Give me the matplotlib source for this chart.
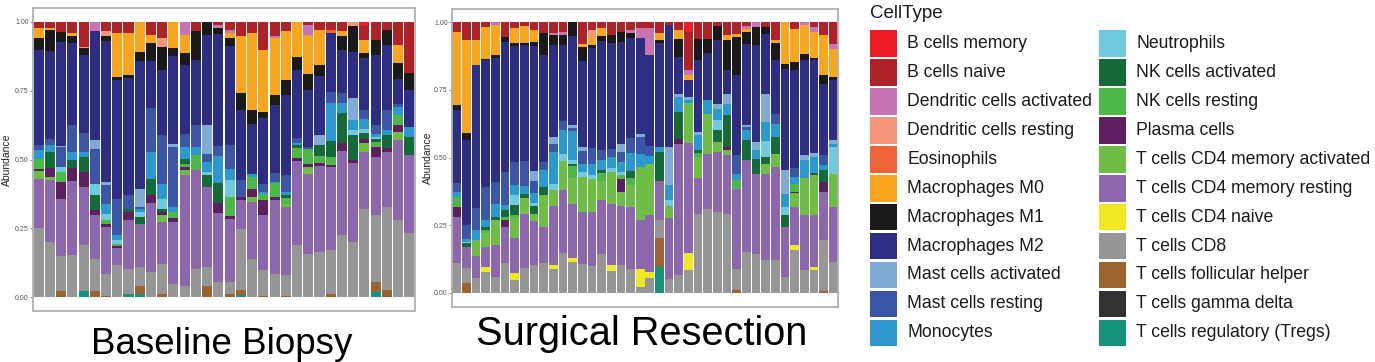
import numpy as np
import matplotlib
matplotlib.use("Agg")
import matplotlib.pyplot as plt
from matplotlib.patches import Rectangle

plt.rcParams['font.family'] = ['Liberation Sans', 'DejaVu Sans']

# ---------------- categories / colours ----------------
cell_types = [
    "B cells memory", "B cells naive", "Dendritic cells activated",
    "Dendritic cells resting", "Eosinophils", "Macrophages M0",
    "Macrophages M1", "Macrophages M2", "Mast cells activated",
    "Mast cells resting", "Monocytes", "Neutrophils", "NK cells activated",
    "NK cells resting", "Plasma cells", "T cells CD4 memory activated",
    "T cells CD4 memory resting", "T cells CD4 naive", "T cells CD8",
    "T cells follicular helper", "T cells gamma delta",
    "T cells regulatory (Tregs)",
]
cell_colors = [
    "#ED1C24", "#AF2228", "#C873B2", "#F4967A", "#F0643C", "#F9A61E",
    "#1A1A1A", "#2D2E83", "#80AAD8", "#3B56A6", "#2B98D0", "#6DCBDD",
    "#146B38", "#4DB748", "#5D1F60", "#6EBE45", "#8C67AD", "#EFE823",
    "#969696", "#9A6330", "#333333", "#14937A",
]

panel_titles = ["Baseline Biopsy", "Surgical Resection"]
y_ticks = [0.0, 0.25, 0.5, 0.75, 1.0]
y_tick_labels = ["0.00", "0.25", "0.50", "0.75", "1.00"]

# ---------------- Baseline Biopsy (34 samples) ----------------
b_B_memory = [0]*29 + [.017] + [0]*4
b_B_naive = [.023, .023, .038, .041, .09, 0, .035, .041, .041, 0, .047, .06, 0, 0, .035, 0, .012,
             .029, .053, .041, .102, .053, .035, 0, .012, .029, .029, .035, 0, .048, .065, .029, .084, .187]
b_DC_act = [0, 0, 0, 0, 0, .032, 0, 0, 0, 0, 0, 0, 0, .047, 0, 0, .012,
            .012, 0, 0, 0, .006, 0, 0, .036, 0, 0, 0, 0, 0, 0, 0, 0, 0]
b_DC_rest = [0, 0, 0, 0, .006, 0, .018, 0, 0, 0, 0, .03, 0, 0, 0, 0, 0,
             0, 0, 0, 0, 0, 0, 0, 0, 0, 0, 0, .017, 0, 0, 0, 0, 0]
b_Eos = [0]*26 + [.012] + [0]*7
b_M0 = [.034, .008, 0, .012, 0, 0, 0, .158, .152, .108, .03, 0, .096, .067, 0, 0, 0,
        .018, .206, .279, .224, .206, .176, .126, .14, .127, 0, .018, 0, .048, 0, 0, .067, 0]
b_M1 = [.045, .076, .034, .024, .024, 0, .018, .012, .012, .036, .067, .085, .03, .042, .103, .047, .022,
        .03, .061, .049, .024, .036, .055, .048, .061, .042, 0, .048, .091, .018, .055, .055, .055, .061]
b_M2 = [.345, .316, .376, .297, .285, .398, .51, .43, .424, .461, .17, .237, .316, .249, .237, .328, .406,
        .358, .255, .182, .237, .249, .291, .248, .206, .212, .212, .158, .17, .188, .255, .236, .091, .133]
b_Mast_act = [0, 0, .005, 0, 0, .03, .012, 0, 0, .067, 0, 0, .012, 0, 0, .103, 0,
              0, 0, 0, 0, 0, 0, 0, 0, .036, 0, 0, .079, 0, 0, 0, 0, 0]
b_Mast_rest = [.018, .024, .073, .097, .067, .127, .067, .133, .049, .006, .158, .176, .218, .049, .079, .03, .036,
               .085, .061, 0, .03, .03, .061, .018, .006, 0, .042, .036, 0, .036, .03, .073, .012, 0]
b_Mono = [.033, .024, 0, .03, .018, 0, .036, .018, 0, .012, .097, .055, .018, .042, .03, .036, .097,
          .042, 0, .012, .006, .006, .012, .008, 0, 0, .139, .036, .036, .036, .012, .018, .03, .036]
b_Neut = [0, 0, .018, 0, 0, .042, .024, .012, 0, .018, 0, .036, 0, 0, 0, .012, 0,
          .061, 0, 0, 0, 0, 0, 0, 0, 0, 0, 0, .018, .012, .008, 0, 0, 0]
b_NK_act = [0, .06, 0, .03, .055, .055, 0, 0, .012, .024, .06, .012, 0, .018, 0, .042, .073,
            0, 0, 0, 0, 0, .008, .01, 0, .042, .055, .109, .091, .024, .01, .048, 0, .067]
b_NK_rest = [.037, 0, .036, 0, 0, 0, .012, .01, 0, 0, 0, 0, .024, .012, .055, 0, 0,
             .067, 0, .042, .024, .049, .024, .036, .055, .024, .03, 0, 0, 0, .018, 0, .036, 0]
b_Plasma = [.007, .03, .06, .048, .055, .018, .012, .005, .03, 0, .03, .012, .012, .012, 0, 0, .036,
            .012, .012, .03, .055, .012, 0, .012, .012, .012, .006, .03, .012, .012, .036, .012, .024, 0]
b_CD4_mem_act = [.026, .012, 0, 0, 0, 0, 0, 0, 0, 0, 0, .024, 0, .018, 0, 0, 0,
                 0, 0, .018, 0, 0, .01, 0, .024, 0, 0, 0, 0, .036, 0, 0, .03, 0]
b_CD4_mem_rest = [.18, .225, .206, .267, .212, .158, .17, .064, .176, .158, .248, .152, .225, .4, .358, .291, .251,
                  .23, .103, .206, .2, .267, .249, .303, .291, .309, .303, .303, .285, .206, .212, .2, .291, .285]
b_CD4_naive = [0]*34
b_CD8 = [.25, .2, .127, .153, .164, .115, .079, .115, .091, .067, .092, .109, .049, .042, .103, .067, .055,
         .042, .224, .14, .091, .085, .073, .189, .157, .165, .158, .225, .2, .32, .242, .303, .28, .232]
b_Tfh = [0, 0, .024, 0, 0, .024, .006, 0, 0, .03, 0, .012, 0, 0, 0, .042, 0,
         .012, .018, 0, .006, 0, .006, 0, 0, 0, .013, 0, 0, 0, .036, .025, 0, 0]
b_Tgd = [0]*34
b_Treg = [0, 0, 0, 0, .024, 0, 0, 0, .012, .012, 0, 0, 0, 0, 0, 0, 0,
          0, .007, 0, 0, 0, 0, 0, 0, 0, 0, 0, 0, 0, .019, 0, 0, 0]

# ---------------- Surgical Resection (40 samples) ----------------
s_B_memory = [0]*24 + [.036] + [0]*15
s_B_naive = [.034, .065, .065, .017, 0, .053, .022, .015, .028, .041, .04, .034, 0, .08, .03, .022, .047, .034, .028, .022,
             .022, .04, .01, .027, .141, .06, .06, .015, .048, .042, .012, 0, .017, .066, 0, .023, 0, .017, .048, .079]
s_DC_act = [0, 0, 0, 0, .011, 0, 0, 0, 0, 0, .006, .012, 0, 0, 0, 0, 0, 0, .012, .037,
            .1, 0, 0, 0, .018, 0, 0, 0, 0, 0, .012, .017, 0, 0, 0, 0, .011, .018, 0, .018]
s_DC_rest = [0]*14 + [.025] + [0]*25
s_Eos = [0]*40
s_M0 = [.271, .345, .092, .117, .111, 0, .055, .06, .043, 0, 0, 0, 0, .012, .03, .03, 0, 0, 0, 0,
        0, .025, 0, .033, .018, 0, 0, 0, .018, .012, .012, 0, 0, .012, .153, .123, .105, .098, .148, .105]
s_M1 = [.018, .025, 0, .006, .009, .018, .009, .008, .018, .08, .037, .037, .05, .05, .01, .018, .03, .037, .018, 0,
        0, .01, 0, .068, 0, .08, .055, .052, .111, .142, .043, .068, .025, .062, .018, .031, .022, .006, .031, .012]
s_M2 = [.271, .314, .53, .468, .459, .483, .428, .43, .462, .394, .34, .283, .33, .32, .37, .4, .39, .376, .37, .357,
        .333, .385, .45, .136, .062, .265, .172, .234, .086, .295, .302, .358, .222, .197, .376, .363, .353, .345, .265, .222]
s_Mast_act = [0, 0, 0, 0, 0, 0, 0, 0, .037, 0, .025, 0, .012, .012, 0, 0, 0, .03, 0, .012,
              0, 0, .14, .012, .012, .012, 0, .018, .037, 0, .006, .03, .105, 0, .086, 0, .018, .012, 0, .012]
s_Mast_rest = [.031, .049, .08, .123, .08, .123, .086, .09, .043, .031, .03, .03, .01, .05, .06, .037, .03, .037, .055, .062,
               .037, 0, 0, 0, 0, 0, 0, 0, 0, .068, .012, 0, 0, .037, 0, .031, 0, 0, .037, 0]
s_Mono = [.018, .012, .037, .025, .049, .018, .037, .03, .037, .062, .12, .092, .105, .03, .04, .037, .043, .037, .068, .049,
          .031, .018, .055, .055, .012, .055, .05, .043, .043, .025, .037, .031, .068, .049, .049, .025, .068, .062, .018, .012]
s_Neut = [0, .006, 0, 0, 0, 0, .037, 0, .012, 0, .02, .025, .018, .018, .015, 0, .012, .012, 0, 0,
          0, 0, .025, 0, 0, 0, 0, .037, 0, 0, 0, 0, .06, 0, .031, 0, 0, 0, 0, .099]
s_NK_act = [0, .012, 0, .012, .012, .025, .037, .015, .03, .031, 0, 0, .006, 0, 0, .012, 0, 0, .025, 0,
            0, .11, 0, .099, 0, .012, 0, .043, .117, 0, .074, .055, .025, .062, .043, 0, 0, .006, .043, 0]
s_NK_rest = [.037, 0, 0, .012, 0, .012, .012, 0, 0, 0, 0, 0, .043, 0, 0, .03, 0, .012, .025, 0,
             0, 0, 0, 0, 0, .013, 0, 0, 0, .03, 0, 0, 0, 0, 0, .03, 0, 0, 0, 0]
s_Plasma = [.037, 0, 0, 0, 0, .025, 0, 0, 0, 0, 0, 0, 0, 0, 0, 0, 0, .05, 0, 0,
            0, 0, 0, .018, 0, 0, 0, 0, .012, 0, 0, 0, 0, 0, 0, .006, 0, 0, .037, 0]
s_CD4_mem_act = [0, 0, .06, .05, .092, 0, .074, .06, .025, .117, .06, .105, .098, .13, .12, .07, .12, .05, .08, .197,
                 .185, 0, .043, 0, .148, .08, .148, .037, .018, 0, 0, 0, .04, .049, 0, .05, .135, .148, 0, .123]
s_CD4_mem_rest = [.172, .08, .08, .074, .117, .135, .129, .2, .16, .135, .22, .236, .197, .19, .2, .2, .223, .217, .23, .18,
                  .21, .142, .224, .486, .406, .13, .203, .222, .216, .296, .339, .296, .317, .345, .185, .142, .204, .191, .179, .203]
s_CD4_naive = [0, 0, 0, .018, 0, 0, .025, 0, 0, 0, .015, 0, .018, 0, 0, 0, .025, 0, 0, .068,
               .025, 0, 0, 0, .062, 0, 0, 0, 0, 0, 0, 0, 0, 0, 0, .018, 0, .012, 0, 0]
s_CD8 = [.11, .055, .056, .078, .059, .11, .048, .092, .105, .11, .087, .146, .113, .108, .1, .144, .08, .103, .089, .022,
         .054, .068, .053, .065, .084, .293, .312, .299, .293, .08, .151, .145, .121, .121, .059, .158, .084, .084, .185, .115]
s_Tfh = [0, .036, 0, 0, 0, 0, 0, 0, 0, 0, 0, 0, 0, 0, 0, 0, 0, 0, 0, 0,
         0, .105, 0, 0, 0, 0, 0, 0, 0, .01, 0, 0, 0, 0, 0, 0, 0, 0, .009, 0]
s_Tgd = [0]*40
s_Treg = [0]*21 + [.097] + [0]*18

baseline_series = [b_B_memory, b_B_naive, b_DC_act, b_DC_rest, b_Eos, b_M0, b_M1, b_M2,
                   b_Mast_act, b_Mast_rest, b_Mono, b_Neut, b_NK_act, b_NK_rest, b_Plasma,
                   b_CD4_mem_act, b_CD4_mem_rest, b_CD4_naive, b_CD8, b_Tfh, b_Tgd, b_Treg]
surgical_series = [s_B_memory, s_B_naive, s_DC_act, s_DC_rest, s_Eos, s_M0, s_M1, s_M2,
                   s_Mast_act, s_Mast_rest, s_Mono, s_Neut, s_NK_act, s_NK_rest, s_Plasma,
                   s_CD4_mem_act, s_CD4_mem_rest, s_CD4_naive, s_CD8, s_Tfh, s_Tgd, s_Treg]

# ---------------- figure ----------------
W, H = 1375, 362
fig = plt.figure(figsize=(W / 100, H / 100), dpi=100)


def px_rect(x0, y0, x1, y1):
    """pixel box (top-left origin) -> figure fraction [l, b, w, h]"""
    return [x0 / W, (H - y1) / H, (x1 - x0) / W, (y1 - y0) / H]


def fx(x):
    return x / W


def fy(y):
    return (H - y) / H


def draw_panel(ax, series):
    vals = np.array(series, dtype=float)
    vals = vals / vals.sum(axis=0)          # position = "fill"
    n = vals.shape[1]
    xs = np.arange(n)
    bottom = np.zeros(n)
    for i in reversed(range(len(cell_types))):
        ax.bar(xs, vals[i], bottom=bottom, width=0.9, color=cell_colors[i],
               linewidth=0)
        bottom += vals[i]
    ax.set_xlim(-0.5, n - 0.5)
    ax.set_ylim(-0.05, 1.05)
    ax.set_xticks([])
    ax.set_yticks(y_ticks)
    ax.set_yticklabels(y_tick_labels, fontsize=5, color="#555555")
    ax.tick_params(axis="y", length=2, width=0.6, color="#777777", pad=1)
    for s in ax.spines.values():
        s.set_color("#b0b0b0")
        s.set_linewidth(1.3)
    ax.set_facecolor("white")


ax1 = fig.add_axes(px_rect(33, 8, 415, 311))
draw_panel(ax1, baseline_series)
ax2 = fig.add_axes(px_rect(452, 8.8, 838, 306.5))
draw_panel(ax2, surgical_series)

fig.text(fx(7), fy(160), "Abundance", rotation=90, ha="center", va="center",
         fontsize=7.5, color="#222222")
fig.text(fx(428), fy(158), "Abundance", rotation=90, ha="center", va="center",
         fontsize=7.5, color="#222222")

fig.text(fx(222), fy(354), panel_titles[0], ha="center", va="baseline",
         fontsize=26.5, color="black")
fig.text(fx(642), fy(345), panel_titles[1], ha="center", va="baseline",
         fontsize=28.6, color="black")

# ---------------- legend ----------------
fig.text(fx(870), fy(18.5), "CellType", ha="left", va="baseline",
         fontsize=13.5, color="#1a1a1a")
row0, row_step, key_h, key_w = 30.5, 28.9, 26.5, 27
for idx, (name, col) in enumerate(zip(cell_types, cell_colors)):
    c, r = divmod(idx, 11)
    kx = 870 if c == 0 else 1099
    tx = 907 if c == 0 else 1136
    ky = row0 + r * row_step
    fig.add_artist(Rectangle((fx(kx), fy(ky + key_h)), key_w / W, key_h / H,
                             transform=fig.transFigure, facecolor=col,
                             edgecolor="none"))
    fig.text(fx(tx), fy(ky + key_h / 2), name, ha="left", va="center",
             fontsize=12.7, color="#1a1a1a")

fig.savefig("out.png", dpi=100, facecolor="white")
